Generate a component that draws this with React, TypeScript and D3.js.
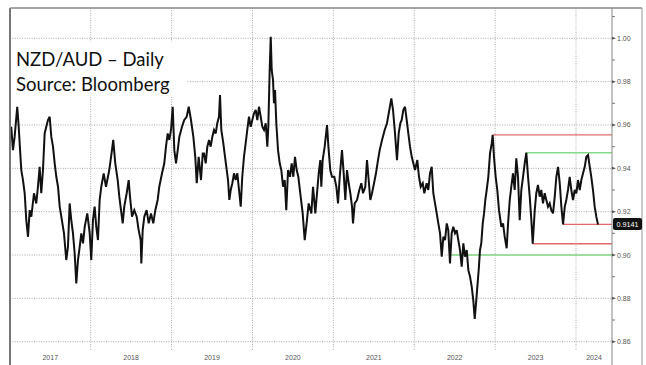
import React from "react";
import * as d3 from "d3";

// decimal-year time stamps and NZD/AUD closes
const yearFrac = [
  2017.005, 2017.018, 2017.039, 2017.06, 2017.092, 2017.11, 2017.122, 2017.142, 2017.163, 2017.184,
  2017.204, 2017.225, 2017.246, 2017.266, 2017.299, 2017.327, 2017.348, 2017.369, 2017.389, 2017.41,
  2017.431, 2017.451, 2017.472, 2017.493, 2017.513, 2017.534, 2017.555, 2017.575, 2017.596, 2017.617,
  2017.637, 2017.67, 2017.698, 2017.719, 2017.74, 2017.76, 2017.781, 2017.802, 2017.822, 2017.843,
  2017.864, 2017.884, 2017.905, 2017.926, 2017.958, 2017.988, 2018.007, 2018.028, 2018.049, 2018.069,
  2018.09, 2018.111, 2018.131, 2018.161,
  2018.189, 2018.23, 2018.263, 2018.279, 2018.304, 2018.334, 2018.354, 2018.375, 2018.396, 2018.415,
  2018.445, 2018.47, 2018.486, 2018.511, 2018.539, 2018.569, 2018.593, 2018.618, 2018.626, 2018.643,
  2018.663, 2018.692, 2018.717, 2018.746, 2018.774, 2018.799, 2018.828, 2018.848, 2018.882, 2018.91,
  2018.931, 2018.952, 2018.972, 2018.993, 2019.014, 2019.034, 2019.055, 2019.076, 2019.096, 2019.129,
  2019.157, 2019.187, 2019.212, 2019.24, 2019.269, 2019.293, 2019.311, 2019.335, 2019.364, 2019.385,
  2019.401, 2019.422, 2019.442, 2019.463, 2019.484, 2019.504, 2019.525, 2019.546, 2019.565, 2019.586,
  2019.599, 2019.615, 2019.64, 2019.661, 2019.682, 2019.698, 2019.714, 2019.731, 2019.751, 2019.772,
  2019.793, 2019.813, 2019.834, 2019.855, 2019.874, 2019.895, 2019.916, 2019.936, 2019.957, 2019.978,
  2019.998, 2020.019, 2020.04, 2020.06, 2020.081, 2020.102, 2020.122, 2020.143, 2020.164, 2020.184,
  2020.196, 2020.213, 2020.226, 2020.238, 2020.254, 2020.266, 2020.279, 2020.295, 2020.316, 2020.337,
  2020.357, 2020.378, 2020.399, 2020.418, 2020.44, 2020.464, 2020.485, 2020.505, 2020.526, 2020.547,
  2020.567, 2020.596, 2020.621,
  2020.646, 2020.674, 2020.695, 2020.728, 2020.749, 2020.777, 2020.798, 2020.819, 2020.839, 2020.851,
  2020.868, 2020.893, 2020.922, 2020.939, 2020.962, 2020.983, 2021.012, 2021.037, 2021.058, 2021.079,
  2021.107, 2021.128, 2021.148, 2021.169, 2021.19, 2021.21, 2021.231, 2021.243, 2021.264, 2021.293,
  2021.321, 2021.346, 2021.367, 2021.395, 2021.416, 2021.437, 2021.457, 2021.478, 2021.511, 2021.527,
  2021.552, 2021.573, 2021.602, 2021.635, 2021.663, 2021.692, 2021.717, 2021.738, 2021.759, 2021.787,
  2021.808, 2021.828,
  2021.845, 2021.865, 2021.886, 2021.907, 2021.927, 2021.948, 2021.969, 2021.989, 2022.01, 2022.038,
  2022.059, 2022.08, 2022.105, 2022.125, 2022.154, 2022.174, 2022.195, 2022.216, 2022.236, 2022.257,
  2022.278, 2022.298, 2022.319, 2022.34, 2022.36, 2022.381, 2022.402, 2022.421, 2022.442, 2022.463,
  2022.483, 2022.504, 2022.525, 2022.545, 2022.566, 2022.587, 2022.607, 2022.628, 2022.649, 2022.669,
  2022.69, 2022.711, 2022.73, 2022.748, 2022.764, 2022.78, 2022.797, 2022.813, 2022.829, 2022.847,
  2022.863, 2022.879, 2022.896, 2022.916, 2022.937, 2022.958, 2022.97, 2022.986, 2023.007, 2023.027,
  2023.048,
  2023.077, 2023.098, 2023.119, 2023.143, 2023.16, 2023.181, 2023.2, 2023.221, 2023.242, 2023.262,
  2023.283, 2023.304, 2023.324, 2023.345, 2023.366, 2023.386, 2023.407, 2023.428, 2023.448, 2023.465,
  2023.49, 2023.509, 2023.53, 2023.551, 2023.571, 2023.592, 2023.613, 2023.633, 2023.654, 2023.675,
  2023.695, 2023.716, 2023.737, 2023.757, 2023.778, 2023.799, 2023.819, 2023.84, 2023.861, 2023.88,
  2023.901, 2023.922, 2023.942, 2023.963, 2023.984, 2024.004, 2024.025, 2024.046, 2024.066, 2024.087,
  2024.108, 2024.128, 2024.149, 2024.17, 2024.189, 2024.21, 2024.231, 2024.251, 2024.272,
];

const closes = [
  0.955, 0.9592, 0.9484, 0.9546, 0.9684, 0.9592, 0.9515, 0.9392, 0.9346, 0.9285,
  0.9161, 0.9084, 0.9207, 0.9177, 0.9285, 0.9238, 0.9315, 0.9407, 0.9285, 0.9392,
  0.9561, 0.9592, 0.9623, 0.9638, 0.9546, 0.95, 0.9423, 0.9361, 0.9315, 0.9223,
  0.9177, 0.91, 0.8977, 0.9038, 0.9238, 0.9161, 0.91, 0.9008, 0.8869, 0.8977,
  0.9038, 0.91, 0.9054, 0.913, 0.9192, 0.91, 0.8977, 0.9161, 0.9223, 0.913,
  0.9069, 0.9254, 0.9315, 0.9377,
  0.9315, 0.9392, 0.9484, 0.9531, 0.9423, 0.9346, 0.9269, 0.9207, 0.9146, 0.9223,
  0.9285, 0.9346, 0.9269, 0.9177, 0.9207, 0.9177, 0.9115, 0.9069, 0.8961, 0.9115,
  0.9177, 0.9207, 0.9146, 0.9192, 0.9146, 0.9207, 0.9254, 0.9315, 0.9377, 0.9423,
  0.95, 0.9561, 0.9531, 0.9577, 0.9684, 0.9484, 0.9423, 0.9484, 0.9546, 0.9592,
  0.9623, 0.9638, 0.9684, 0.9623, 0.9546, 0.9453, 0.9331, 0.9453, 0.9346, 0.9469,
  0.9469, 0.9423, 0.95, 0.9531, 0.95, 0.9546, 0.9577, 0.9561, 0.9608, 0.9638,
  0.9738, 0.9577, 0.9515, 0.9453, 0.9392, 0.9346, 0.9254, 0.93, 0.9331, 0.9377,
  0.9346, 0.9377, 0.93, 0.9223, 0.9361, 0.9453, 0.9515, 0.9577, 0.9638, 0.9592,
  0.9623, 0.9654, 0.9669, 0.9623, 0.9684, 0.9638, 0.9592, 0.9577, 0.9608, 0.95,
  0.9592, 0.9854, 1.0007, 0.9854, 0.9808, 0.97, 0.9761, 0.9608, 0.9484, 0.9423,
  0.9392, 0.9315, 0.9346, 0.9207, 0.9392, 0.9361, 0.9423, 0.9361, 0.9453, 0.9392,
  0.9361, 0.9269, 0.9192,
  0.9069, 0.9161, 0.9238, 0.9192, 0.9315, 0.9192, 0.9285, 0.9377, 0.9438, 0.9315,
  0.9438, 0.95, 0.96, 0.95, 0.9392, 0.9361, 0.9361, 0.9315, 0.9238, 0.9361,
  0.9484, 0.9377, 0.9254, 0.9392, 0.9331, 0.9285, 0.9223, 0.9146, 0.9238, 0.9254,
  0.93, 0.9331, 0.9285, 0.9315, 0.9438, 0.9346, 0.9254, 0.9285, 0.9346, 0.9377,
  0.9438, 0.9484, 0.9531, 0.9577, 0.9608, 0.9669, 0.9723, 0.9669, 0.9577, 0.9438,
  0.9561, 0.9608,
  0.9623, 0.9669, 0.9684, 0.9623, 0.9561, 0.95, 0.9453, 0.9423, 0.9392, 0.9438,
  0.9361, 0.9315, 0.9331, 0.9285, 0.9331, 0.93, 0.9377, 0.9407, 0.9285, 0.9238,
  0.9192, 0.9146, 0.91, 0.8992, 0.9084, 0.9069, 0.9146, 0.9115, 0.8961, 0.91,
  0.913, 0.91, 0.9115, 0.9069, 0.9023, 0.8946, 0.9054, 0.8992, 0.9023, 0.893,
  0.89, 0.8853, 0.8792, 0.8705, 0.8777, 0.8853, 0.893, 0.9023, 0.9054, 0.9146,
  0.9192, 0.9254, 0.93, 0.9361, 0.9469, 0.9515, 0.9554, 0.9453, 0.9361, 0.93,
  0.9207,
  0.913, 0.9146, 0.9084, 0.9031, 0.9146, 0.9254, 0.9315, 0.9377, 0.93, 0.9446,
  0.9361, 0.9161, 0.93, 0.9361, 0.9423, 0.9472, 0.9361, 0.9269, 0.9161, 0.9052,
  0.9207, 0.9285, 0.9323, 0.9269, 0.93, 0.9238, 0.9285, 0.9254, 0.9223, 0.9238,
  0.9207, 0.9192, 0.9269, 0.9361, 0.9407, 0.9331, 0.9223, 0.9141, 0.9223, 0.9254,
  0.93, 0.9361, 0.93, 0.9254, 0.93, 0.9285, 0.9346, 0.93, 0.9346, 0.9377,
  0.9407, 0.9453, 0.9461, 0.9407, 0.9361, 0.93, 0.9223, 0.9177, 0.9141,
];

// horizontal support / resistance levels
const levelValues = [0.9554, 0.9472, 0.9141, 0.9052, 0.9];
const levelStarts = [2022.97, 2023.386, 2023.84, 2023.465, 2022.442];
const levelKinds = ["red", "green", "red", "red", "green"];

const yearLabels = ["2017", "2018", "2019", "2020", "2021", "2022", "2023", "2024"];
const majorTicks = [0.86, 0.88, 0.9, 0.92, 0.94, 0.96, 0.98, 1.0];
const minorTicks = [0.87, 0.89, 0.91, 0.93, 0.95, 0.97, 0.99, 1.01];

const titleLines = ["NZD/AUD \u2013 Daily", "Source: Bloomberg"];

export default function App() {
  const W = 646;
  const H = 365;
  const left = 10;
  const axisX = 612;
  const top = 8;
  const frameRight = 642;
  const gridBottom = 350;

  const x = d3.scaleLinear().domain([2017, 2024]).range([9.8, 576]);
  const y = d3.scaleLinear().domain([0.86, 1.0]).range([341.7, 38.3]);

  const lineGen = d3
    .line<number>()
    .x((_, i) => x(yearFrac[i]))
    .y((d) => y(d));

  const years = yearLabels.map((s) => +s);
  const last = closes[closes.length - 1];
  const gridColor = "#a8a8a8";
  const colorOf = (k: string) => (k === "red" ? "#e26a6a" : "#86d986");

  return (
    <svg
      width={W}
      height={H}
      style={{ position: "absolute", left: 0, top: 0, background: "#fff" }}
      fontFamily="'Liberation Sans', Arial, sans-serif"
    >
      <rect x={0} y={0} width={W} height={H} fill="#fff" />
      {majorTicks.map((t) => (
        <line
          key={"hg" + t}
          x1={left}
          x2={axisX}
          y1={y(t)}
          y2={y(t)}
          stroke={gridColor}
          strokeWidth={1}
          strokeDasharray="1,1.4"
        />
      ))}
      {years.slice(1).map((yr) => (
        <line
          key={"vg" + yr}
          x1={x(yr)}
          x2={x(yr)}
          y1={top}
          y2={gridBottom}
          stroke={gridColor}
          strokeWidth={1}
          strokeDasharray="1,1.4"
        />
      ))}
      {levelValues.map((v, i) => (
        <line
          key={"lv" + i}
          x1={x(levelStarts[i])}
          x2={axisX}
          y1={y(v)}
          y2={y(v)}
          stroke={colorOf(levelKinds[i])}
          strokeWidth={1.3}
        />
      ))}
      <path
        d={lineGen(closes) || ""}
        fill="none"
        stroke="#111"
        strokeWidth={2}
        strokeLinejoin="miter"
        strokeMiterlimit={3}
      />
      <rect x={left + 1} y={42} width={176} height={55} fill="#fff" />
      {titleLines.map((s, i) => (
        <text
          key={"t" + i}
          x={16}
          y={66 + i * 24.7}
          fontSize={18.5}
          fontFamily="Lato, 'Open Sans', sans-serif"
          fill="#111"
        >
          {s}
        </text>
      ))}
      <line x1={left} x2={left} y1={top} y2={H} stroke="#777" strokeWidth={2} />
      <line x1={left} x2={frameRight} y1={top} y2={top} stroke="#888" strokeWidth={1.5} />
      <line x1={frameRight} x2={frameRight} y1={top} y2={H} stroke="#999" strokeWidth={1} />
      <line x1={axisX} x2={axisX} y1={top} y2={H} stroke="#888" strokeWidth={1} />
      {minorTicks.map((t) => (
        <line key={"mt" + t} x1={axisX} x2={axisX + 3} y1={y(t)} y2={y(t)} stroke="#777" strokeWidth={1} />
      ))}
      {majorTicks.map((t) => (
        <g key={"yt" + t}>
          <path
            d={`M${axisX},${y(t) - 1.5}L${axisX + 4},${y(t)}L${axisX},${y(t) + 1.5}Z`}
            fill="#555"
          />
          <text x={axisX + 5} y={y(t) + 2.5} fontSize={7} fill="#555">
            {t.toFixed(2)}
          </text>
        </g>
      ))}
      <rect x={axisX + 1} y={y(last) - 6.5} width={29} height={12} rx={2} fill="#111" />
      <text x={axisX + 15.5} y={y(last) + 2.5} fontSize={7.2} fill="#fff" textAnchor="middle">
        {last.toFixed(4)}
      </text>
      {years.map((yr, i) => {
        const a = x(yr);
        const b = i < years.length - 1 ? x(yr + 1) : axisX;
        return (
          <text key={"xl" + yr} x={(a + b) / 2} y={360} fontSize={7} fill="#555" textAnchor="middle">
            {yearLabels[i]}
          </text>
        );
      })}
    </svg>
  );
}
